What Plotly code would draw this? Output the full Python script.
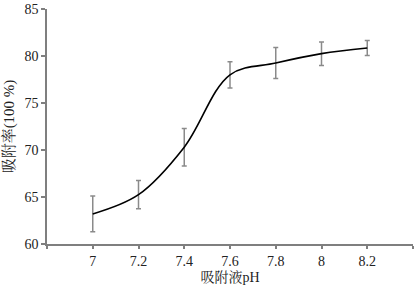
import plotly.graph_objects as go

ph = [7, 7.2, 7.4, 7.6, 7.8, 8, 8.2]
adsorption = [63.2, 65.25, 70.3, 78.0, 79.25, 80.25, 80.85]
errors = [1.9, 1.5, 2.0, 1.4, 1.65, 1.25, 0.8]

x_tickvals = [6.8, 7, 7.2, 7.4, 7.6, 7.8, 8, 8.2, 8.4]
x_ticktext = ["", "7", "7.2", "7.4", "7.6", "7.8", "8", "8.2", ""]
y_tickvals = [60, 65, 70, 75, 80, 85]

font_family = "Liberation Serif, Times New Roman, serif"
title_family = "Liberation Serif, Noto Serif CJK SC, Noto Sans CJK SC"

fig = go.Figure()
fig.add_trace(go.Scatter(
    x=ph, y=adsorption,
    mode="lines",
    line=dict(color="black", width=1.6, shape="spline", smoothing=1.0),
    error_y=dict(type="data", array=errors, visible=True,
                 color="#8a8a8a", thickness=1.5, width=2.5),
    showlegend=False,
    hoverinfo="skip",
))

fig.update_layout(
    width=415, height=286,
    margin=dict(l=47, r=2, t=9, b=42),
    paper_bgcolor="white", plot_bgcolor="white",
    font=dict(family=font_family, size=14, color="#222"),
    xaxis=dict(
        range=[6.8, 8.4], tickvals=x_tickvals, ticktext=x_ticktext,
        showgrid=False, zeroline=False,
        showline=True, linecolor="#7f7f7f", linewidth=1.5,
        ticks="outside", ticklen=3, tickcolor="#7f7f7f", tickwidth=1.5,
        tickfont=dict(family=font_family, size=14),
        title=dict(text="吸附液pH", font=dict(family=title_family, size=14), standoff=2),
    ),
    yaxis=dict(
        range=[60, 85], tickvals=y_tickvals,
        showgrid=False, zeroline=False,
        showline=True, linecolor="#7f7f7f", linewidth=1.5,
        ticks="outside", ticklen=4, tickcolor="#7f7f7f", tickwidth=1.5,
        tickfont=dict(family=font_family, size=14),
        title=dict(text="吸附率(100 %)", font=dict(family=title_family, size=15), standoff=6),
    ),
)

fig.write_html("out.html", config={"displayModeBar": False},
               post_script="document.body.style.margin='0';")
